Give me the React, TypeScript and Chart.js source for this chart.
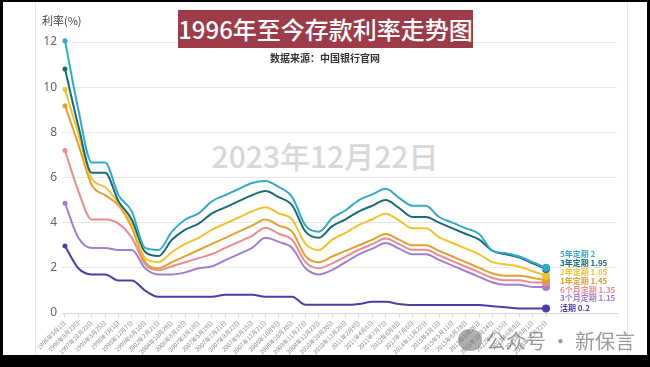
import React, { useEffect, useRef } from 'react';
import { Chart, registerables } from 'chart.js';
Chart.register(...registerables);

const dates = [
  '1996年5月1日', '1996年8月23日', '1997年10月23日', '1998年3月25日', '1998年7月1日',
  '1998年12月7日', '1999年6月10日', '2002年2月21日', '2004年10月29日', '2006年8月19日',
  '2007年3月18日', '2007年5月19日', '2007年7月21日', '2007年8月22日', '2007年9月15日',
  '2007年12月21日', '2008年10月9日', '2008年10月30日', '2008年11月27日', '2008年12月23日',
  '2010年10月20日', '2010年12月26日', '2011年2月9日', '2011年4月6日', '2011年7月7日',
  '2012年6月8日', '2012年7月6日', '2014年11月22日', '2015年3月1日', '2015年5月11日',
  '2015年6月28日', '2015年8月26日', '2015年10月24日', '2022年9月15日', '2023年6月8日',
  '2023年9月1日', '2023年12月22日',
];

const rate5y = [12.06, 9.0, 6.66, 6.66, 5.22, 4.5, 2.88, 2.79, 3.6, 4.14, 4.41, 4.95, 5.22, 5.49, 5.76, 5.85, 5.58, 5.13, 3.87, 3.6, 4.2, 4.55, 5.0, 5.25, 5.5, 5.1, 4.75, 4.75, 4.25, 4.0, 3.75, 3.5, 2.75, 2.65, 2.5, 2.25, 2.0];
const rate3y = [10.8, 8.28, 6.21, 6.21, 4.95, 4.14, 2.7, 2.52, 3.24, 3.69, 3.96, 4.41, 4.68, 4.95, 5.22, 5.4, 5.13, 4.77, 3.6, 3.33, 3.85, 4.15, 4.5, 4.75, 5.0, 4.65, 4.25, 4.25, 4.0, 3.75, 3.5, 3.25, 2.75, 2.6, 2.45, 2.2, 1.95];
const rate2y = [9.9, 7.92, 5.94, 5.58, 4.86, 3.96, 2.43, 2.25, 2.7, 3.06, 3.33, 3.69, 3.96, 4.23, 4.5, 4.68, 4.41, 4.14, 3.06, 2.79, 3.25, 3.55, 3.9, 4.15, 4.4, 4.1, 3.75, 3.75, 3.35, 3.1, 2.85, 2.6, 2.25, 2.15, 2.05, 1.85, 1.65];
const rate1y = [9.18, 7.47, 5.67, 5.22, 4.77, 3.78, 2.25, 1.98, 2.25, 2.52, 2.79, 3.06, 3.33, 3.6, 3.87, 4.14, 3.87, 3.6, 2.52, 2.25, 2.5, 2.75, 3.0, 3.25, 3.5, 3.25, 3.0, 3.0, 2.75, 2.5, 2.25, 2.0, 1.75, 1.65, 1.65, 1.55, 1.45];
const rate6m = [7.2, 5.4, 4.14, 4.14, 3.96, 3.33, 2.16, 1.89, 2.07, 2.25, 2.43, 2.61, 2.88, 3.15, 3.42, 3.78, 3.51, 3.24, 2.25, 1.98, 2.2, 2.5, 2.8, 3.05, 3.3, 3.05, 2.8, 2.8, 2.55, 2.3, 2.05, 1.8, 1.55, 1.45, 1.45, 1.35, 1.35];
const rate3m = [4.86, 3.33, 2.88, 2.88, 2.79, 2.79, 1.98, 1.71, 1.71, 1.8, 1.98, 2.07, 2.34, 2.61, 2.88, 3.33, 3.15, 2.88, 1.98, 1.71, 1.91, 2.25, 2.6, 2.85, 3.1, 2.85, 2.6, 2.6, 2.35, 2.1, 1.85, 1.6, 1.35, 1.25, 1.25, 1.15, 1.15];
const rateDemand = [2.97, 1.98, 1.71, 1.71, 1.44, 1.44, 0.99, 0.72, 0.72, 0.72, 0.72, 0.72, 0.81, 0.81, 0.81, 0.72, 0.72, 0.72, 0.36, 0.36, 0.36, 0.36, 0.4, 0.5, 0.5, 0.4, 0.35, 0.35, 0.35, 0.35, 0.35, 0.35, 0.3, 0.25, 0.2, 0.2, 0.2];

const seriesNames = ['5年定期', '3年定期', '2年定期', '1年定期', '6个月定期', '3个月定期', '活期'];
const seriesColors = ['#36a9c9', '#1b6b76', '#f2c230', '#e0a034', '#ec8b90', '#a07fd2', '#4b3fa6'];
const yTicks = [0, 2, 4, 6, 8, 10, 12];

const CJK = "'Noto Sans CJK SC', 'Noto Sans', sans-serif";

export default function App() {
  const ref = useRef<HTMLCanvasElement>(null);

  useEffect(() => {
    const series = [rate5y, rate3y, rate2y, rate1y, rate6m, rate3m, rateDemand];
    Chart.defaults.font.family = CJK;
    const chart = new Chart(ref.current as HTMLCanvasElement, {
      type: 'line',
      data: {
        datasets: series.map((vals, k) => ({
          label: seriesNames[k],
          data: vals.map((v, i) => ({ x: i, y: v })),
          borderColor: seriesColors[k],
          backgroundColor: seriesColors[k],
          borderWidth: 2,
          cubicInterpolationMode: 'monotone' as const,
          pointRadius: (c: any) => (c.dataIndex === 0 ? 2.5 : c.dataIndex === vals.length - 1 ? 4 : 0),
          pointBorderWidth: 0,
          clip: false as any,
        })),
      },
      options: {
        responsive: false,
        animation: false,
        layout: { padding: { left: 0, right: 33, top: 42, bottom: 12 } },
        plugins: { legend: { display: false }, tooltip: { enabled: false } },
        scales: {
          x: {
            type: 'linear',
            min: -0.2245,
            max: 41.31,
            afterBuildTicks: (s: any) => {
              s.ticks = dates.map((_, i) => ({ value: i }));
            },
            afterFit: (s: any) => {
              s.height = 42;
            },
            ticks: {
              autoSkip: false,
              minRotation: 45,
              maxRotation: 45,
              padding: 2,
              color: '#888',
              font: { size: 6, family: CJK },
              callback: (v: any) => dates[v as number] ?? '',
            },
            grid: { drawOnChartArea: false, tickLength: 4, color: '#d8d8d8' },
            border: { color: '#d8d8d8' },
          },
          y: {
            min: 0,
            max: 12,
            afterBuildTicks: (s: any) => {
              s.ticks = yTicks.map((v) => ({ value: v }));
            },
            afterFit: (s: any) => {
              s.width = 62;
            },
            ticks: { padding: 5, color: '#666', font: { size: 12, family: "'Noto Sans', sans-serif" } },
            grid: { color: '#e8e8e8', drawTicks: false },
            border: { display: false },
          },
        },
      },
    });
    return () => chart.destroy();
  }, []);

  const series = [rate5y, rate3y, rate2y, rate1y, rate6m, rate3m, rateDemand];
  const labelTops = [249, 258, 267, 276, 285, 293, 303];

  return (
    <div style={{ position: 'fixed', left: 0, top: 0, width: 650, height: 367, background: '#000', overflow: 'hidden' }}>
      <div style={{ position: 'absolute', left: 3, top: 2, width: 644, height: 353, background: '#fff' }} />
      <div style={{ position: 'absolute', left: 35, top: 2, width: 1, height: 353, background: '#e6e6e6' }} />
      <div style={{ position: 'absolute', left: 627, top: 2, width: 1, height: 353, background: '#e6e6e6' }} />
      <div style={{ position: 'absolute', left: 0, top: 136, width: 650, textAlign: 'center', fontFamily: CJK, fontSize: 30, fontWeight: 500, color: '#d8d8d8', lineHeight: '38px' }}>
        2023年12月22日
      </div>
      <canvas ref={ref} width={650} height={367} style={{ position: 'absolute', left: 0, top: 0, width: 650, height: 367 }} />
      <div style={{ position: 'absolute', left: 42, top: 12, fontFamily: CJK, fontSize: 11, color: '#444', lineHeight: '16px' }}>利率(%)</div>
      <div style={{ position: 'absolute', left: 178, top: 10, width: 295, height: 38, background: '#9d3b48', color: '#fff', fontFamily: CJK, fontSize: 24, fontWeight: 500, lineHeight: '38px', textAlign: 'center' }}>
        1996年至今存款利率走势图
      </div>
      <div style={{ position: 'absolute', left: 0, top: 51, width: 650, textAlign: 'center', fontFamily: CJK, fontSize: 10, fontWeight: 700, color: '#333', lineHeight: '14px' }}>
        数据来源：中国银行官网
      </div>
      {seriesNames.map((n, k) => (
        <div key={n} style={{ position: 'absolute', left: 560, top: labelTops[k], fontFamily: CJK, fontSize: 8, fontWeight: 700, color: seriesColors[k], lineHeight: '10px', whiteSpace: 'nowrap' }}>
          {n} {String(series[k][series[k].length - 1])}
        </div>
      ))}
      <div style={{ position: 'absolute', left: 458, top: 329, width: 24, height: 22, borderRadius: 11, background: 'rgba(110,110,110,0.55)' }} />
      <div style={{ position: 'absolute', left: 486, top: 327, fontFamily: CJK, fontSize: 20, color: 'rgba(120,120,120,0.75)', lineHeight: '28px', whiteSpace: 'nowrap' }}>
        公众号 · 新保言
      </div>
    </div>
  );
}
